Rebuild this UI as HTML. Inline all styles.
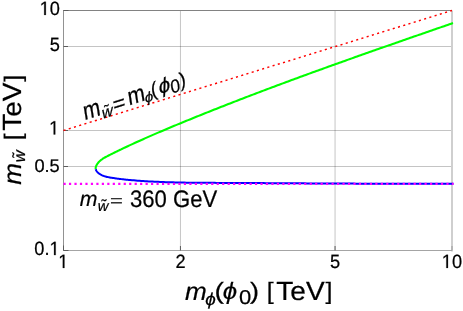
<!DOCTYPE html>
<html><head><meta charset="utf-8"><style>
html,body{margin:0;padding:0;background:#fff;}
svg{display:block;mix-blend-mode:multiply}
text{font-family:"Liberation Sans",sans-serif;fill:#000;stroke:#000;stroke-width:0.22px;text-rendering:geometricPrecision}
.tk{font-size:17.5px}
</style></head><body>
<svg width="463" height="311" viewBox="0 0 463 311">
<rect width="463" height="311" fill="#fff"/>
<g stroke="#000" stroke-opacity="0.23" stroke-width="1" fill="none">
<line x1="180.45" y1="10.5" x2="180.45" y2="250.5"/>
<line x1="335.05" y1="10.5" x2="335.05" y2="250.5"/>
<line x1="63.5" y1="46.50" x2="452.0" y2="46.50"/>
<line x1="63.5" y1="130.50" x2="452.0" y2="130.50"/>
<line x1="63.5" y1="166.50" x2="452.0" y2="166.50"/>
</g>
<line x1="452.0" y1="10.5" x2="452.0" y2="251.5" stroke="#cfcfcf" stroke-width="2"/>
<g stroke-width="1" fill="none">
<path d="M452.0 10.5 L63.0 10.5" stroke="#828282"/>
<path d="M63.5 10.5 L63.5 251.0" stroke="#929292"/>
<path d="M63.5 250.5 L452.0 250.5" stroke="#a4a4a4"/>
<path d="M63.5 10.5 h5 M63.5 46.50 h4.5 M63.5 166.50 h4.5 M63.5 130.50 h4.5 M63.5 250.5 h5 M63.5 250.5 v-5 M180.45 250.5 v-4.5 M335.05 250.5 v-4.5" stroke="#5c5c5c"/>
<path d="M452.0 250.5 v-4.5" stroke="#9a9a9a"/>
</g>
<path d="M95.75 169.23 L95.67 168.62 L95.68 167.78 L95.71 167.59 L95.84 166.93 L96.12 166.08 L96.19 165.90 L96.51 165.23 L96.98 164.40 L97.08 164.24 L97.53 163.59 L98.14 162.81 L98.25 162.68 L98.79 162.07 L99.47 161.38 L99.57 161.28 L100.17 160.73 L100.91 160.11 L101.01 160.03 L101.66 159.53 L102.44 158.99 L102.52 158.93 L103.23 158.47 L104.04 157.97 L104.11 157.92 L104.86 157.49 L105.69 157.03 L105.75 157.00 L106.54 156.58 L107.38 156.15 L107.43 156.12 L108.23 155.71 L109.08 155.28 L109.11 155.27 L109.93 154.85 L110.79 154.43 L110.80 154.42 L111.64 154.00 L112.49 153.58 L112.49 153.57 L113.35 153.15 L114.18 152.74 L114.20 152.73 L115.06 152.31 L115.87 151.91 L115.91 151.89 L116.77 151.47 L117.56 151.08 L117.62 151.05 L118.48 150.63 L119.26 150.26 L119.34 150.22 L120.19 149.80 L120.96 149.44 L121.05 149.39 L121.91 148.98 L122.66 148.62 L122.77 148.57 L123.63 148.16 L124.36 147.81 L124.49 147.75 L126.06 147.01 L127.76 146.21 L129.47 145.41 L131.18 144.62 L132.89 143.83 L134.60 143.04 L136.31 142.26 L138.02 141.48 L139.74 140.71 L141.45 139.94 L143.17 139.17 L144.89 138.41 L146.61 137.65 L148.33 136.89 L150.05 136.13 L151.77 135.38 L153.50 134.63 L155.22 133.89 L156.95 133.15 L158.68 132.40 L160.40 131.67 L162.13 130.93 L163.86 130.20 L165.59 129.47 L167.33 128.74 L169.06 128.01 L170.79 127.28 L172.53 126.56 L174.26 125.84 L176.00 125.12 L177.73 124.40 L179.47 123.68 L181.21 122.97 L182.94 122.25 L184.68 121.54 L186.42 120.83 L188.16 120.12 L189.90 119.41 L191.64 118.70 L193.38 117.99 L195.13 117.28 L196.87 116.58 L198.61 115.88 L200.35 115.17 L202.10 114.47 L203.84 113.77 L205.59 113.07 L207.33 112.38 L209.08 111.68 L210.83 110.99 L212.57 110.29 L214.32 109.60 L216.07 108.91 L217.82 108.22 L219.56 107.53 L221.31 106.84 L223.06 106.15 L224.81 105.46 L226.56 104.78 L228.32 104.09 L230.07 103.41 L231.82 102.73 L233.57 102.05 L235.33 101.37 L237.08 100.69 L238.83 100.01 L240.59 99.33 L242.34 98.66 L244.10 97.98 L245.85 97.31 L247.61 96.63 L249.36 95.96 L251.12 95.29 L252.88 94.62 L254.64 93.95 L256.39 93.28 L258.15 92.62 L259.91 91.95 L261.67 91.28 L263.43 90.62 L265.19 89.96 L266.95 89.29 L268.71 88.63 L270.47 87.97 L272.23 87.31 L273.99 86.65 L275.76 85.99 L277.52 85.33 L279.28 84.68 L281.04 84.02 L282.81 83.37 L284.57 82.71 L286.33 82.06 L288.10 81.41 L289.86 80.75 L291.63 80.10 L293.39 79.45 L295.16 78.80 L296.92 78.15 L298.69 77.51 L300.46 76.86 L302.22 76.21 L303.99 75.57 L305.76 74.92 L307.52 74.28 L309.29 73.63 L311.06 72.99 L312.83 72.35 L314.60 71.70 L316.36 71.06 L318.13 70.42 L319.90 69.78 L321.67 69.14 L323.44 68.51 L325.21 67.87 L326.98 67.23 L328.75 66.59 L330.52 65.96 L332.29 65.32 L334.06 64.69 L335.84 64.05 L337.61 63.42 L339.38 62.79 L341.15 62.15 L342.92 61.52 L344.69 60.89 L346.47 60.26 L348.24 59.63 L350.01 59.00 L351.78 58.37 L353.56 57.74 L355.33 57.11 L357.10 56.48 L358.88 55.86 L360.65 55.23 L362.42 54.60 L364.20 53.98 L365.97 53.35 L367.75 52.73 L369.52 52.10 L371.30 51.48 L373.07 50.85 L374.84 50.23 L376.62 49.61 L378.39 48.99 L380.17 48.36 L381.94 47.74 L383.72 47.12 L385.49 46.50 L387.27 45.88 L389.04 45.26 L390.82 44.64 L392.60 44.02 L394.37 43.40 L396.15 42.78 L397.92 42.16 L399.70 41.54 L401.47 40.92 L403.25 40.30 L405.03 39.69 L406.80 39.07 L408.58 38.45 L410.35 37.83 L412.13 37.22 L413.91 36.60 L415.68 35.98 L417.46 35.37 L419.23 34.75 L421.01 34.14 L422.79 33.52 L424.56 32.91 L426.34 32.29 L428.11 31.68 L429.89 31.06 L431.67 30.45 L433.44 29.83 L435.22 29.22 L436.99 28.60 L438.77 27.99 L440.55 27.37 L442.32 26.76 L444.10 26.15 L445.87 25.53 L447.65 24.92 L449.43 24.31 L451.20 23.69 L452.98 23.08" stroke="#00ff00" stroke-width="2.1" stroke-linejoin="round" fill="none" stroke-linecap="butt"/>
<path d="M95.75 169.23 L95.80 169.43 L96.09 170.22 L96.39 170.78 L96.52 170.98 L97.06 171.70 L97.50 172.18 L97.69 172.38 L98.41 173.01 L98.93 173.43 L99.17 173.60 L99.98 174.14 L100.53 174.47 L100.80 174.63 L101.65 175.07 L102.21 175.33 L102.52 175.47 L103.41 175.82 L103.97 176.02 L104.31 176.14 L105.23 176.42 L105.79 176.58 L106.16 176.68 L107.09 176.91 L107.65 177.03 L108.04 177.12 L108.99 177.31 L109.53 177.41 L109.94 177.48 L110.90 177.65 L111.42 177.73 L111.85 177.80 L112.81 177.96 L113.31 178.04 L113.76 178.11 L114.71 178.25 L115.19 178.32 L115.66 178.39 L116.61 178.52 L117.08 178.59 L117.56 178.65 L118.51 178.78 L118.95 178.84 L119.46 178.90 L120.40 179.02 L120.82 179.07 L121.35 179.13 L122.29 179.25 L122.70 179.29 L123.24 179.35 L124.18 179.46 L124.56 179.50 L125.12 179.56 L126.07 179.66 L126.43 179.69 L127.01 179.75 L127.95 179.84 L128.30 179.88 L128.89 179.93 L129.83 180.02 L130.16 180.05 L132.02 180.21 L133.89 180.37 L135.75 180.52 L137.62 180.66 L139.49 180.80 L141.35 180.93 L143.22 181.06 L145.09 181.17 L146.96 181.29 L148.83 181.40 L150.71 181.50 L152.58 181.60 L154.45 181.69 L156.33 181.78 L158.20 181.86 L160.08 181.94 L161.96 182.01 L163.83 182.08 L165.71 182.15 L167.59 182.21 L169.47 182.27 L171.35 182.32 L173.23 182.37 L175.11 182.42 L176.99 182.46 L178.87 182.50 L180.75 182.54 L182.63 182.58 L184.52 182.61 L186.40 182.64 L188.28 182.66 L190.16 182.69 L192.05 182.71 L193.93 182.73 L195.82 182.75 L197.70 182.77 L199.58 182.79 L201.47 182.80 L203.35 182.81 L205.24 182.82 L207.12 182.84 L209.01 182.85 L210.89 182.86 L212.78 182.86 L214.66 182.87 L216.54 182.88 L218.43 182.89 L220.31 182.90 L222.20 182.91 L224.08 182.91 L225.96 182.92 L227.85 182.93 L229.73 182.94 L231.61 182.95 L233.50 182.96 L235.38 182.97 L237.26 182.98 L239.14 182.99 L241.03 183.00 L242.91 183.01 L244.79 183.02 L246.67 183.03 L248.55 183.04 L250.44 183.05 L252.32 183.06 L254.20 183.07 L256.08 183.08 L257.96 183.09 L259.84 183.10 L261.72 183.11 L263.61 183.12 L265.49 183.13 L267.37 183.14 L269.25 183.15 L271.13 183.17 L273.01 183.18 L274.89 183.19 L276.77 183.20 L278.65 183.21 L280.53 183.22 L282.41 183.23 L284.29 183.24 L286.17 183.25 L288.05 183.27 L289.93 183.28 L291.81 183.29 L293.69 183.30 L295.57 183.31 L297.45 183.32 L299.33 183.33 L301.21 183.34 L303.09 183.36 L304.97 183.37 L306.84 183.38 L308.72 183.39 L310.60 183.40 L312.48 183.41 L314.36 183.42 L316.24 183.43 L318.12 183.44 L320.00 183.45 L321.88 183.46 L323.76 183.47 L325.64 183.48 L327.51 183.49 L329.39 183.50 L331.27 183.51 L333.15 183.52 L335.03 183.53 L336.91 183.54 L338.79 183.55 L340.67 183.56 L342.55 183.57 L344.42 183.58 L346.30 183.59 L348.18 183.60 L350.06 183.61 L351.94 183.62 L353.82 183.62 L355.70 183.63 L357.58 183.64 L359.46 183.65 L361.34 183.66 L363.21 183.66 L365.09 183.67 L366.97 183.68 L368.85 183.69 L370.73 183.69 L372.61 183.70 L374.49 183.71 L376.37 183.71 L378.25 183.72 L380.13 183.72 L382.01 183.73 L383.89 183.74 L385.77 183.74 L387.65 183.75 L389.53 183.75 L391.41 183.76 L393.29 183.76 L395.17 183.76 L397.05 183.77 L398.93 183.77 L400.81 183.77 L402.69 183.78 L404.57 183.78 L406.45 183.78 L408.33 183.78 L410.21 183.79 L412.09 183.79 L413.97 183.79 L415.86 183.79 L417.74 183.79 L419.62 183.79 L421.50 183.79 L423.38 183.79 L425.26 183.79 L427.15 183.79 L429.03 183.79 L430.91 183.79 L432.79 183.78 L434.67 183.78 L436.56 183.78 L438.44 183.78 L440.32 183.77 L442.21 183.77 L444.09 183.76 L445.97 183.76 L447.86 183.76 L449.74 183.75 L451.62 183.74 L453.51 183.74" stroke="#0000ff" stroke-width="2.0" stroke-linejoin="round" fill="none" stroke-linecap="butt"/>
<line x1="63.5" y1="183.75" x2="453.5" y2="183.75" stroke="#ff00ff" stroke-width="2.25" stroke-dasharray="2.2 3.27"/>
<line x1="63.5" y1="130.50" x2="452.0" y2="10.5" stroke="#ff0000" stroke-width="1.45" stroke-dasharray="2.1 3.37"/>
<g transform="translate(59.9,14.9) scale(1.04,1.1)"><path d="M515 0V1237L197 1010V1180L530 1409H696V0Z" transform="translate(-19.47,0) scale(0.00854,-0.00854)" fill="#000" stroke="#000" stroke-width="25.7"/><text x="-9.73" y="0" font-size="17.5">0</text></g>
<g transform="translate(59.8,51.0) scale(1.04,1.1)"><text x="-9.73" y="0" font-size="17.5">5</text></g>
<g transform="translate(59.2,134.4) scale(1.04,1.1)"><path d="M515 0V1237L197 1010V1180L530 1409H696V0Z" transform="translate(-9.73,0) scale(0.00854,-0.00854)" fill="#000" stroke="#000" stroke-width="25.7"/></g>
<g transform="translate(59.7,172.0) scale(1.04,1.05)"><text x="-24.33" y="0" font-size="17.5">0</text><text x="-14.59" y="0" font-size="17.5">.</text><text x="-9.73" y="0" font-size="17.5">5</text></g>
<g transform="translate(59.6,255.1) scale(1.04,1.1)"><text x="-24.33" y="0" font-size="17.5">0</text><text x="-14.59" y="0" font-size="17.5">.</text><path d="M515 0V1237L197 1010V1180L530 1409H696V0Z" transform="translate(-9.73,0) scale(0.00854,-0.00854)" fill="#000" stroke="#000" stroke-width="25.7"/></g>
<g transform="translate(63.3,267.9) scale(1.04,1.1)"><path d="M515 0V1237L197 1010V1180L530 1409H696V0Z" transform="translate(-4.87,0) scale(0.00854,-0.00854)" fill="#000" stroke="#000" stroke-width="25.7"/></g>
<g transform="translate(180.4501533154567,267.9) scale(1.04,1.1)"><text x="-4.87" y="0" font-size="17.5">2</text></g>
<g transform="translate(335.04984668454335,267.9) scale(1.04,1.1)"><text x="-4.87" y="0" font-size="17.5">5</text></g>
<g transform="translate(451.9,267.9) scale(1.04,1.1)"><path d="M515 0V1237L197 1010V1180L530 1409H696V0Z" transform="translate(-9.73,0) scale(0.00854,-0.00854)" fill="#000" stroke="#000" stroke-width="25.7"/><text x="0.00" y="0" font-size="17.5">0</text></g>
<text transform="translate(184.94,300.4) scale(1.045,1)" font-size="25" font-style="italic">m</text>
<text transform="translate(205.33,305) scale(1.1,1)" font-size="17.2" font-style="italic">ϕ</text>
<text transform="translate(214.61,299.0) scale(1.2,1)" font-size="23.5">(</text>
<text transform="translate(222.72,299.0) scale(1.1,1)" font-size="23.5" font-style="italic">ϕ</text>
<text transform="translate(238.94,304.2) scale(1.1,1)" font-size="20">0</text>
<text transform="translate(249.9,299.0) scale(1.15,1)" font-size="23.5">)</text>
<text transform="translate(266.85,299.0) scale(1.05,1)" font-size="23.8">[</text>
<text transform="translate(276.34,300.3) scale(1.065,1)" font-size="26.3">TeV</text>
<text transform="translate(325.4,299.0) scale(1.05,1)" font-size="23.8">]</text>
<g transform="rotate(-90)"><text transform="translate(-184.86,21.0) scale(1.045,1)" font-size="25" font-style="italic">m</text>
<text transform="translate(-162.26,25.0) scale(1.0,1)" font-size="16.4" font-style="italic">w</text>
<text transform="translate(-157.6,23.0) scale(1,1)" font-size="15">˜</text>
<text transform="translate(-140.25,20.5) scale(1.05,1)" font-size="23.8">[</text>
<text transform="translate(-130.76,20.8) scale(1.065,1)" font-size="26.3">TeV</text>
<text transform="translate(-81.7,20.5) scale(1.05,1)" font-size="23.8">]</text></g>
<g transform="translate(84,118.5) matrix(1,-0.318,0.16,1,0,0)"><text transform="translate(0.2,1.8) scale(1,1.23)" font-size="20.1">m</text>
<text transform="translate(17.9,6) scale(1,1.05)" font-size="15" font-style="italic">w</text>
<text transform="translate(20.9,3.6) scale(1,1)" font-size="14">˜</text>
<text transform="translate(29.4,3) scale(1,1.0)" font-size="21">=</text>
<text transform="translate(44.8,1.2) scale(1,1.2)" font-size="20.1">m</text>
<text transform="translate(60.8,3.8) scale(1.2,1.1)" font-size="12.5" font-style="italic">ϕ</text>
<text transform="translate(68,0) scale(1,1.1)" font-size="18">(</text>
<text transform="translate(75.7,-0.4) scale(1.1,1.1)" font-size="18.4" font-style="italic">ϕ</text>
<text transform="translate(87,2.9) scale(1.03,1.1)" font-size="16.5">0</text>
<text transform="translate(96.5,-0.5) scale(1,1.1)" font-size="18">)</text></g>
<text transform="translate(79.79,206.3) scale(1,1.0)" font-size="21.2" font-style="italic">m</text>
<text transform="translate(97.81,210.5) scale(1,1.0)" font-size="14.8" font-style="italic">w</text>
<text transform="translate(101.5,209.9) scale(1,1)" font-size="15">˜</text>
<text transform="translate(109.92,205.8) scale(1,0.73)" font-size="22">=</text>
<text transform="translate(129.94,206.6) scale(1,1.08)" font-size="22.1">360 GeV</text>
</svg>
</body></html>
